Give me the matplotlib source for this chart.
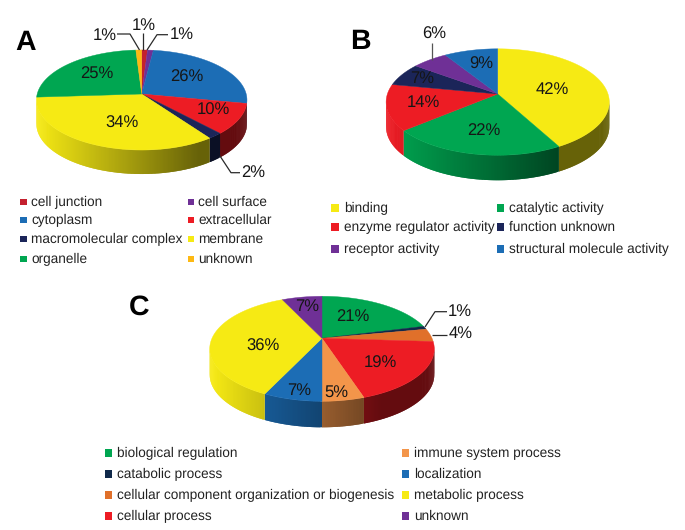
import numpy as np
import matplotlib
matplotlib.use("Agg")
import matplotlib.pyplot as plt
from matplotlib.colors import to_rgb
from matplotlib.patches import Polygon, Rectangle

plt.rcParams['font.family'] = ['Liberation Sans', 'DejaVu Sans']
plt.rcParams['text.hinting'] = 'no_hinting'
plt.rcParams['text.hinting_factor'] = 8

YEL, GRN, BLU, RED, NAVY, PUR = '#f6ea14', '#00a651', '#1c6db5', '#ed1c24', '#1b2559', '#6f3096'

# Panel A
cats_a = ['cell junction', 'cell surface', 'cytoplasm', 'extracellular',
          'macromolecular complex', 'membrane', 'organelle', 'unknown']
vals_a = [1, 1, 26, 10, 2, 34, 25, 1]
cols_a = ['#c4202e', PUR, BLU, RED, NAVY, YEL, GRN, '#fdb913']
# Panel B
cats_b = ['binding', 'catalytic activity', 'enzyme regulator activity', 'function unknown',
          'receptor activity', 'structural molecule activity']
vals_b = [42, 22, 14, 7, 6, 9]
cols_b = [YEL, GRN, RED, NAVY, PUR, BLU]
# Panel C
cats_c = ['biological regulation', 'catabolic process',
          'cellular component organization or biogenesis', 'cellular process',
          'immune system process', 'localization', 'metabolic process', 'unknown']
vals_c = [21, 1, 4, 19, 5, 7, 36, 7]
cols_c = [GRN, '#10294a', '#e0702a', RED, '#f3954a', BLU, YEL, PUR]

fig = plt.figure(figsize=(6.85, 5.3), dpi=100)
ax = fig.add_axes([0, 0, 1, 1])
ax.set_xlim(0, 685)
ax.set_ylim(530, 0)
ax.axis('off')
TXT = '#161616'


def project(theta, cx, cy, rx, ry, p):
    X, Y = np.sin(theta), np.cos(theta)
    d = 1 + p * Y
    return cx + rx * X / d, cy - ry * Y / d


def pie3d(vals, cols, cx, cy, rx, ry, p, depth):
    total = sum(vals)
    edges = np.cumsum([0] + list(vals)) / total * 2 * np.pi
    # side wall: overlapping quads, shaded left to right, only on the visible front arc
    for a, b, c in zip(edges[:-1], edges[1:], cols):
        n = max(3, int((b - a) / 0.012))
        th = np.linspace(a, b, n + 1)
        x, y = project(th, cx, cy, rx, ry, p)
        base = np.array(to_rgb(c))
        for i in range(n):
            j = min(i + 2, n)
            if min(np.cos(th[i]), np.cos(th[j])) > -p + 0.02:
                continue
            t = np.clip((0.5 * (x[i] + x[i + 1]) - (cx - rx)) / (2 * rx), 0, 1)
            f = max(0.42, 1 - 0.75 * t)
            ax.add_patch(Polygon([(x[i], y[i]), (x[j], y[j]), (x[j], y[j] + depth), (x[i], y[i] + depth)],
                                 closed=True, facecolor=tuple(base * f), edgecolor='none', zorder=2))
    # top face
    for a, b, c in zip(edges[:-1], edges[1:], cols):
        th = np.linspace(a, b, max(3, int((b - a) / 0.01)))
        x, y = project(th, cx, cy, rx, ry, p)
        pts = np.column_stack([np.r_[cx, x], np.r_[cy, y]])
        ax.add_patch(Polygon(pts, closed=True, facecolor=c, edgecolor=c, linewidth=0.3, zorder=3))


def pct(x, y, v):
    ax.text(x, y, f'{v}%', fontsize=12, color=TXT, ha='center', va='center', zorder=5)


def leader(xs, ys, color='#2a2a2a'):
    ax.plot(xs, ys, color=color, lw=0.9, zorder=4, solid_capstyle='butt')


def legend(cats, cols, xs, ys, sq, gap, by_column=False):
    nrows = len(ys)
    for i, (t, c) in enumerate(zip(cats, cols)):
        if by_column:
            col, row = i // nrows, i % nrows
        else:
            col, row = i % 2, i // 2
        x, y = xs[col], ys[row]
        ax.add_patch(Rectangle((x, y - sq / 2), sq, sq, facecolor=c, edgecolor='none', zorder=4))
        ax.text(x + sq + gap, y, t, fontsize=9.85, color='#222222', ha='left', va='center', zorder=5)


def letter(x, y, s):
    ax.text(x, y, s, fontsize=20.5, fontweight='bold', color='black', ha='center', va='center', zorder=5)


# ---------- A
pie3d(vals_a, cols_a, 141.7, 94, 104.5, 49.3, 0.12, 24)
for (x, y), v in zip([(97, 74), (187, 77), (213, 110), (122, 123), (253, 173),
                      (105, 36), (144, 26), (182, 35)],
                     [vals_a[6], vals_a[2], vals_a[3], vals_a[5], vals_a[4],
                      vals_a[7], vals_a[0], vals_a[1]]):
    pct(x, y, v)
leader([117, 130, 139.5], [34, 34, 50])
leader([143.3, 143.3], [33, 50])
leader([168, 157, 147], [34.7, 34.7, 50])
leader([220, 231, 240], [156, 172.7, 172.7])
legend(cats_a, cols_a, [20.5, 188], [202, 220, 239, 259], 6.5, 4)
letter(26, 43, 'A')

# ---------- B
pie3d(vals_b, cols_b, 497.7, 94, 110.3, 52, 0.151, 25)
for (x, y), v in zip([(552, 90), (484, 131), (423, 103), (422, 79), (481, 64), (434, 34)],
                     [vals_b[0], vals_b[1], vals_b[2], vals_b[3], vals_b[5], vals_b[4]]):
    pct(x, y, v)
leader([431.7, 431.7], [43, 60], color='#555555')
legend(cats_b, cols_b, [331.5, 497], [208, 227, 249], 7.5, 5)
letter(360, 42, 'B')

# ---------- C
pie3d(vals_c, cols_c, 322, 338.3, 110, 50.4, 0.2, 26)
for (x, y), v in zip([(353, 317), (263, 346), (380, 363), (299, 391), (336, 392),
                      (307, 307), (460, 312), (461, 334)],
                     [vals_c[0], vals_c[6], vals_c[3], vals_c[5], vals_c[4],
                      vals_c[7], vals_c[1], vals_c[2]]):
    pct(x, y, v)
leader([447, 435, 425], [311.7, 311.7, 327])
leader([447, 432], [335, 335])
legend(cats_c, cols_c, [105, 402], [453, 474, 495, 516], 7.5, 5, by_column=True)
letter(139, 307, 'C')

fig.savefig('out.png', dpi=100, facecolor='white')
